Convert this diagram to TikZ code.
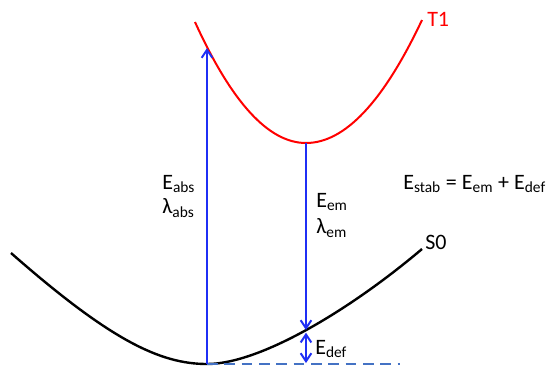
\documentclass[tikz,border=0pt]{standalone}
\usepackage{fontspec}
\setmainfont{Carlito}
\usetikzlibrary{arrows.meta}
\definecolor{levelblue}{HTML}{1F2FF5}
\definecolor{baseblue}{HTML}{4472C4}
\definecolor{tripred}{HTML}{FF0000}
\tikzset{
  lbl/.style={anchor=west,inner sep=0pt,font=\fontsize{16.5}{19}\selectfont},
  trans/.style={levelblue,line width=1.5pt,-{Straight Barb[length=6pt,width=8pt]}}
}

\begin{document}
\begin{tikzpicture}[x=0.75pt,y=-0.75pt]
  \useasboundingbox (0,0) rectangle (550,369);
  % points on the curves
  \coordinate (s0min) at (207,364);
  \coordinate (t1abs) at (207,48);
  \coordinate (t1min) at (306,143);
  \coordinate (s0em) at (306,330);
  \coordinate (basend) at (400,364);
  % potential energy curves
  \draw[black,line width=1.8pt] (11,253) .. controls (110,340) and (160,364) .. (s0min)
    .. controls (260,364) and (350,310) .. (422,249);
  \draw[tripred,line width=1.5pt] (195,22) .. controls (231.7,102.7) and (268.7,143) .. (t1min)
    .. controls (344.7,143) and (383.3,102) .. (422,20);
  \node[lbl,text=tripred] (t1lab) at (427,19) {T1};
  \node[lbl] (s0lab) at (425,242) {S0};
  % transitions
  \draw[baseblue,line width=1.2pt,dash pattern=on 8pt off 5pt] (s0min) -- (basend);
  \draw[trans] (s0min) -- (t1abs);
  \draw[trans] (t1min) -- (s0em);
  \draw[levelblue,line width=1.5pt,{Straight Barb[length=6pt,width=8pt]}-{Straight Barb[length=6pt,width=8pt]}]
    ([yshift=-2]s0em) -- (306,363);
  \node[lbl] (eabs) at (162,184) {E\textsubscript{abs}};
  \node[lbl] (labs) at (162,208) {λ\textsubscript{abs}};
  \node[lbl] (eem) at (316,202) {E\textsubscript{em}};
  \node[lbl] (lem) at (316,228) {λ\textsubscript{em}};
  \node[lbl] (edef) at (315,349) {E\textsubscript{def}};
  \node[lbl] (estab) at (403,184) {E\textsubscript{stab} = E\textsubscript{em} + E\textsubscript{def}};
\end{tikzpicture}
\end{document}
